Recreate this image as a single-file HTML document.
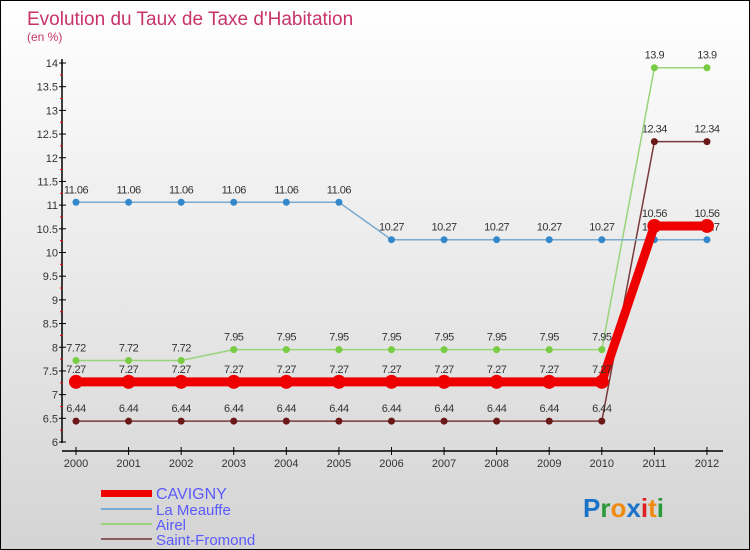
<!DOCTYPE html>
<html><head><meta charset="utf-8"><style>
body{margin:0}
#c{width:750px;height:550px;position:relative;box-sizing:border-box;border:1px solid #000;background:linear-gradient(#fff,#d4d4d4);overflow:hidden;font-family:"Liberation Sans",sans-serif}
</style></head><body>
<div id="c">
<svg id="s" width="750" height="550" style="position:absolute;left:0;top:0">
<text x="26" y="24" font-size="19" fill="#c8336a">Evolution du Taux de Taxe d'Habitation</text>
<text x="26" y="40" font-size="12" fill="#c8336a">(en %)</text>
<g id="axes"></g><g id="series"></g>
<g font-size="15" fill="#5a5aff">
<rect x="100" y="489" width="51" height="7" fill="#e00"/>
<text x="155" y="498" font-size="16">CAVIGNY</text>
<rect x="100" y="507" width="51" height="2" fill="#7aaad0"/>
<text x="155" y="514">La Meauffe</text>
<rect x="100" y="522" width="51" height="2" fill="#99d47a"/>
<text x="155" y="529">Airel</text>
<rect x="100" y="537" width="51" height="2" fill="#8a5a5a"/>
<text x="155" y="544">Saint-Fromond</text>
</g>
<text x="582" y="516" font-size="26" font-weight="bold"><tspan fill="#1a73c8">P</tspan><tspan fill="#2a9a3a">r</tspan><tspan fill="#f08a10">o</tspan><tspan fill="#1a73c8">x</tspan><tspan fill="#e02020">i</tspan><tspan fill="#f08a10">t</tspan><tspan fill="#2a9a3a">i</tspan></text>
</svg>
</div>
<script>
const years=[2000,2001,2002,2003,2004,2005,2006,2007,2008,2009,2010,2011,2012];
const cavigny=[7.27,7.27,7.27,7.27,7.27,7.27,7.27,7.27,7.27,7.27,7.27,10.56,10.56];
const meauffe=[11.06,11.06,11.06,11.06,11.06,11.06,10.27,10.27,10.27,10.27,10.27,10.27,10.27];
const airel=[7.72,7.72,7.72,7.95,7.95,7.95,7.95,7.95,7.95,7.95,7.95,13.9,13.9];
const stfromond=[6.44,6.44,6.44,6.44,6.44,6.44,6.44,6.44,6.44,6.44,6.44,12.34,12.34];
const yTicks=[6,6.5,7,7.5,8,8.5,9,9.5,10,10.5,11,11.5,12,12.5,13,13.5,14];
const NS="http://www.w3.org/2000/svg";
const X=i=>75+i*52.58, Y=v=>441-(v-6)*47.375;
function mk(t,a,p){const e=document.createElementNS(NS,t);for(const k in a)e.setAttribute(k,a[k]);p.appendChild(e);return e;}
const ax=document.getElementById('axes');
let e=mk('line',{x1:61,y1:58,x2:61,y2:442,stroke:'#000','stroke-width':1.5},ax);


e=mk('line',{x1:61,y1:450,x2:722,y2:450,stroke:'#000','stroke-width':1.5},ax);


yTicks.forEach(v=>{
 mk('line',{x1:58,y1:Y(v),x2:65,y2:Y(v),stroke:'#000'},ax);
 mk('line',{x1:59,y1:Y(v+0.25),x2:62,y2:Y(v+0.25),stroke:'#e00'},ax).setAttribute('visibility',v<14?'visible':'hidden');
 const t=mk('text',{x:57,y:Y(v)+4,'font-size':11,'text-anchor':'end',fill:'#333'},ax);t.textContent=String(v);
 
 
});
years.forEach((y,i)=>{
 mk('line',{x1:X(i),y1:446,x2:X(i),y2:454,stroke:'#000'},ax);
 const t=mk('text',{x:X(i),y:466,'font-size':11,'text-anchor':'middle',fill:'#333'},ax);t.textContent=y;
 
 
});
const sg=document.getElementById('series');
function series(vals,color,dot,w,r,name){
 const g=mk('g',{},sg);
 
 
 mk('polyline',{points:vals.map((v,i)=>X(i)+','+Y(v)).join(' '),fill:'none',stroke:color,'stroke-width':w},g);
 vals.forEach((v,i)=>{
  const c=mk('circle',{cx:X(i),cy:Y(v),r:r,fill:dot},g);
  
  
  const t=mk('text',{x:X(i),y:Y(v)-9,'font-size':11,'text-anchor':'middle',fill:'#333','letter-spacing':'-0.5'},g);t.textContent=String(v);
 });
}
series(stfromond,'#7a3a3a','#6a1818',1.5,3.5,'saint-fromond');
series(airel,'#99d47a','#77cc44',1.5,3.5,'airel');
series(meauffe,'#7aaad0','#3388cc',1.5,3.5,'la-meauffe');
series(cavigny,'#ee0000','#ee0000',9,7,'cavigny');
</script>
</body></html>
